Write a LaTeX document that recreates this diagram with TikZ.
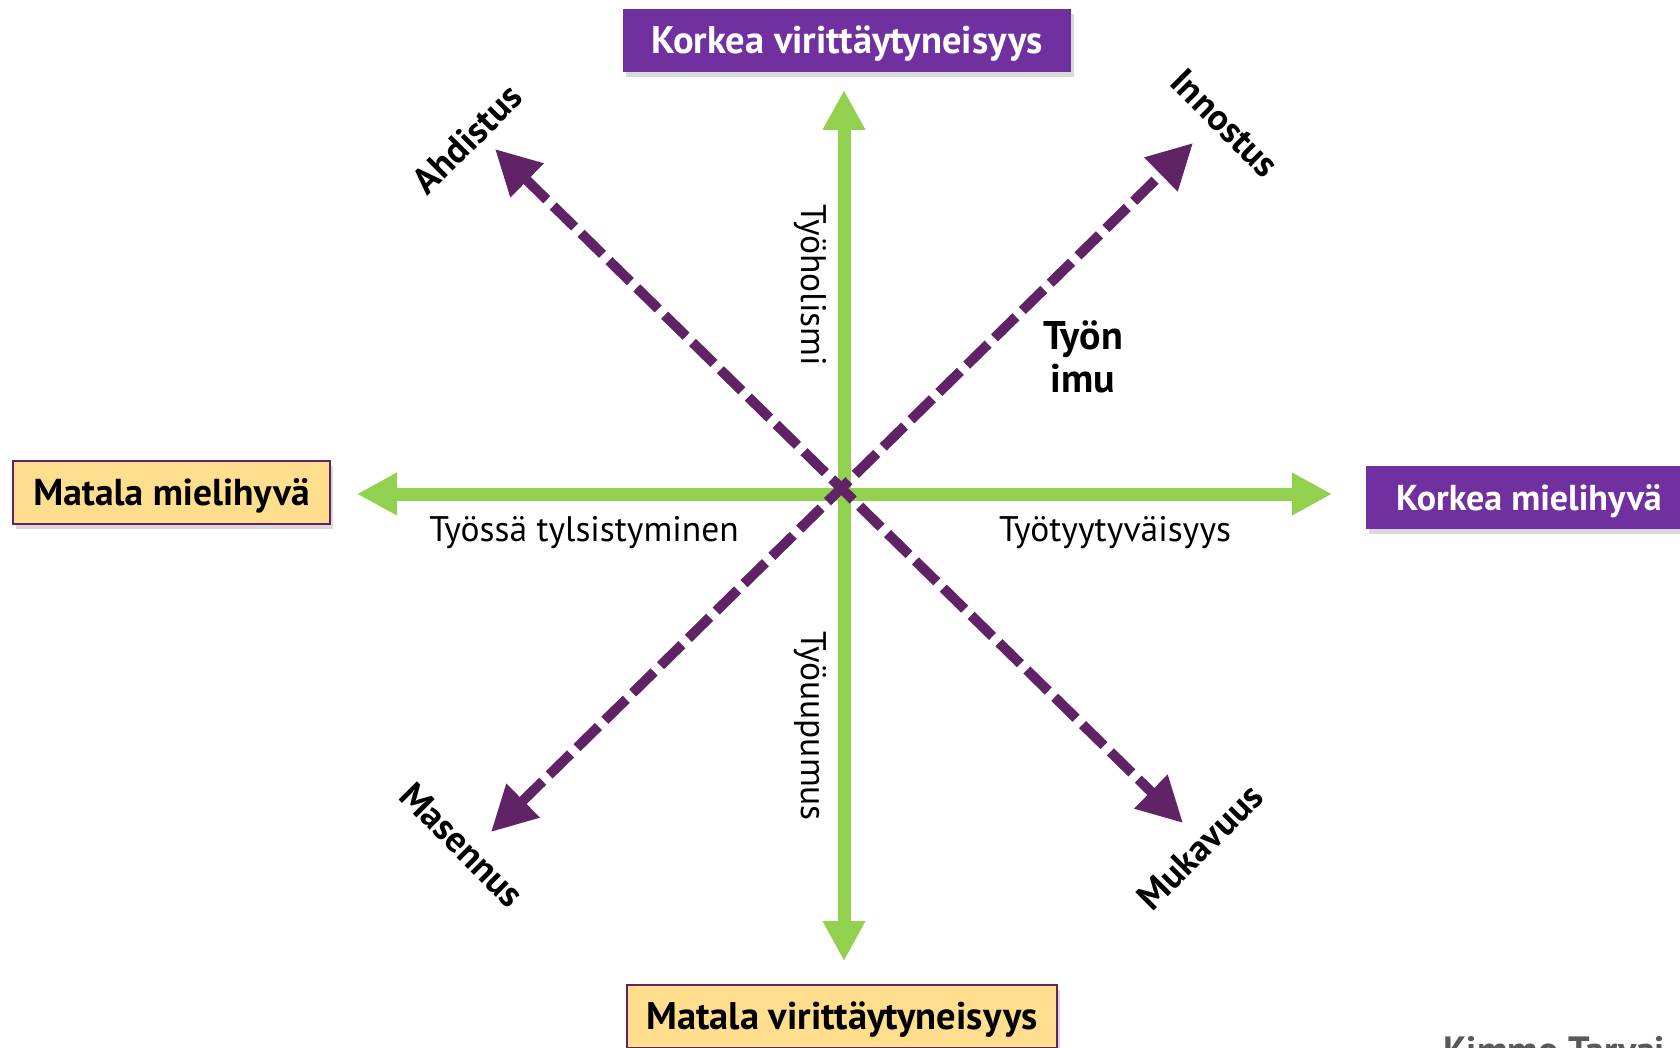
\documentclass[tikz,border=0pt]{standalone}
\usepackage{fontspec}
\setmainfont{PT Sans}
\usetikzlibrary{arrows.meta,shadows}
\definecolor{vihrea}{RGB}{146,208,80}
\definecolor{violetti}{RGB}{112,48,160}
\definecolor{tumma}{RGB}{96,36,102}
\definecolor{keltainen}{RGB}{255,222,142}
\begin{document}
\begin{tikzpicture}[x=1pt,y=-1pt,
  akseli/.style={vihrea,line width=13pt,
    {Triangle[length=40pt,width=40pt]}-{Triangle[length=40pt,width=40pt]}},
  vinot/.style={tumma,line width=10pt,dash pattern=on 30pt off 9pt,
    {Triangle[length=45pt,width=45pt]}-{Triangle[length=45pt,width=45pt]}},
  laatikko/.style={font=\fontsize{38.5}{46}\selectfont\bfseries,minimum height=63pt,
    text height=26pt,text depth=0pt,
    drop shadow={shadow xshift=3pt,shadow yshift=-5pt,opacity=0.3}},
  korkea/.style={laatikko,fill=violetti,text=white},
  matala/.style={laatikko,fill=keltainen,draw=tumma,line width=1.5pt},
  teksti/.style={font=\fontsize{35.5}{42}\selectfont},
  tila/.style={font=\fontsize{37}{42}\selectfont\bfseries}]
\useasboundingbox (0,0) rectangle (1680,1048);
% akselit
\coordinate (keski) at (844,494);
\coordinate (vasen) at (357,494);
\coordinate (oikea) at (1332,494);
\coordinate (ylos) at (844,90);
\coordinate (alas) at (844,961);
\draw[akseli] (vasen)--(oikea);
\draw[akseli] (alas)--(ylos);
% vinot nuolet
\coordinate (ahd) at (495,149);
\coordinate (muk) at (1183,823);
\coordinate (inn) at (1193,143);
\coordinate (mas) at (491,832);
\draw[vinot] (ahd)--(muk);
\draw[vinot] (mas)--(inn);
% laatikot
\node[korkea,minimum width=448pt] (kv) at (847,40.5) {Korkea virittäytyneisyys};
\node[matala,minimum width=317pt,font=\fontsize{37.5}{46}\selectfont\bfseries] (mm) at (171.5,492.5) {Matala mielihyvä};
\node[korkea,anchor=west,inner xsep=30pt,font=\fontsize{36}{46}\selectfont\bfseries] (km) at (1366,497.5) {Korkea mielihyvä};
\node[matala,minimum width=430pt] (mv) at (842,1016.5) {Matala virittäytyneisyys};
% tekstit
\node[teksti,rotate=-90] (holismi) at (810,285) {Työholismi};
\node[teksti,rotate=-90] (uupumus) at (810,726) {Työuupumus};
\node[teksti] (tylsistyminen) at (584,533) {Työssä tylsistyminen};
\node[teksti] (tyytyvaisyys) at (1115,533) {Työtyytyväisyys};
\node[tila,font=\fontsize{40}{43}\selectfont\bfseries,align=center] (imu) at (1083,357) {Työn\\imu};
\node[tila,rotate=45] (ahdistus) at (467,139) {Ahdistus};
\node[tila,rotate=-45] (innostus) at (1225,123) {Innostus};
\node[tila,rotate=-45] (masennus) at (462,845) {Masennus};
\node[tila,rotate=45] (mukavuus) at (1200,847) {Mukavuus};
\node[font=\fontsize{38}{46}\selectfont\bfseries,text=black!65,anchor=base west,inner sep=0pt] (tekija) at (1443,1063) {Kimmo Tarvai};
\end{tikzpicture}
\end{document}
